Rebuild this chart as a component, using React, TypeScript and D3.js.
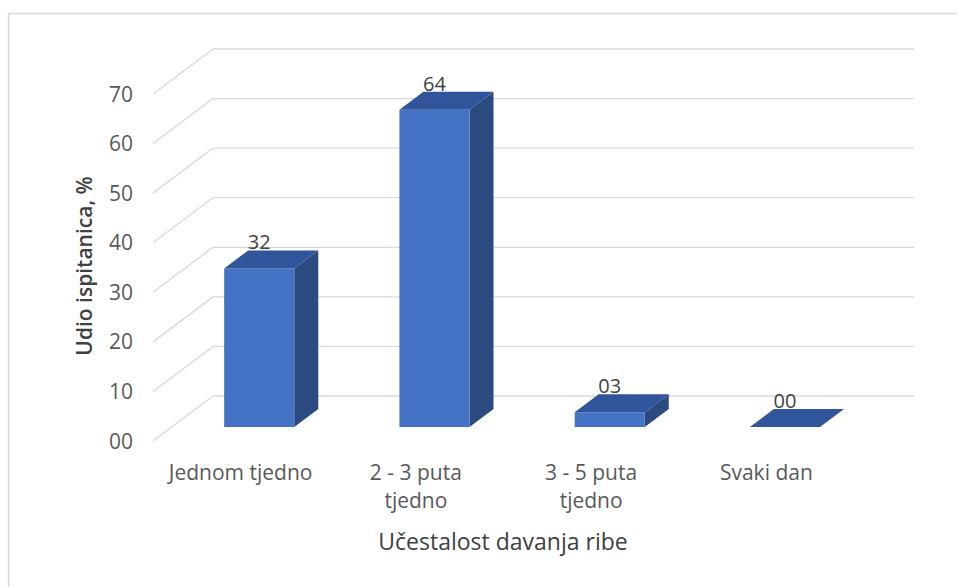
import React from "react";
import * as d3 from "d3";

const categories: string[][] = [["Jednom tjedno"], ["2 - 3 puta", "tjedno"], ["3 - 5 puta", "tjedno"], ["Svaki dan"]];
const values: number[] = [32, 64, 3, 0];
const valueLabels: string[] = ["32", "64", "03", "00"];
const ticks: number[] = [0, 10, 20, 30, 40, 50, 60, 70];
const tickLabels: string[] = ["00", "10", "20", "30", "40", "50", "60", "70"];
const yTitle = "Udio ispitanica, %";
const xTitle = "Učestalost davanja ribe";

const W = 957, H = 587;
const DX = 60, DY = -45; // depth offset front -> back
const T_FRONT = 0.31, T_BACK = 0.71;
const FONT = "'Open Sans', 'Segoe UI', sans-serif";

export default function App() {
  const x = d3.scaleBand<number>().domain(d3.range(categories.length)).range([153, 854]).padding(0);
  const y = d3.scaleLinear().domain([0, 70]).range([441, 94]);
  const bw = x.bandwidth();
  const barW = bw * 0.4;

  const P = (px: number, py: number, t: number) => [px + DX * t, py + DY * t];
  const pts = (arr: number[][]) => arr.map((p) => p.join(",")).join(" ");

  return (
    <svg width={W} height={H} style={{ position: "absolute", left: 0, top: 0, background: "#fff" }}>
      <rect x={8.5} y={13.5} width={W + 20} height={H + 20} fill="#fff" stroke="#D9D9D9" strokeWidth={1.5} />
      {/* gridlines */}
      {ticks.map((v) => {
        const fy = y(v);
        const fx = 153;
        const [bx, by] = P(fx, fy, 1);
        const [ex] = P(854, fy, 1);
        return (
          <g key={v}>
            <line x1={fx} y1={fy} x2={bx} y2={by} stroke="#D9D9D9" strokeWidth={1.3} />
            <line x1={bx} y1={by} x2={ex} y2={by} stroke="#D9D9D9" strokeWidth={1.3} />
          </g>
        );
      })}
      {/* tick labels */}
      {ticks.map((v, i) => (
        <text key={v} x={133} y={y(v)} dy="0.36em" textAnchor="end" fontFamily={FONT} fontSize={21} fill="#595959">
          {tickLabels[i]}
        </text>
      ))}
      {/* bars */}
      {values.map((v, i) => {
        const cx = (x(i) as number) + bw / 2;
        const x0 = cx - barW / 2, x1 = cx + barW / 2;
        const yb = y(0), yt = y(v);
        const f00 = P(x0, yb, T_FRONT), f10 = P(x1, yb, T_FRONT), f11 = P(x1, yt, T_FRONT), f01 = P(x0, yt, T_FRONT);
        const b10 = P(x1, yb, T_BACK), b11 = P(x1, yt, T_BACK), b01 = P(x0, yt, T_BACK);
        return (
          <g key={i}>
            {v > 0 && <polygon points={pts([f10, b10, b11, f11])} fill="#2B4A80" />}
            {v > 0 && <polygon points={pts([f00, f10, f11, f01])} fill="#4472C4" />}
            <polygon points={pts([f01, f11, b11, b01])} fill="#30559A" />
          </g>
        );
      })}
      {/* value labels */}
      {values.map((v, i) => {
        const cx = (x(i) as number) + bw / 2 + DX * T_FRONT;
        const by = y(v) + DY * T_BACK;
        return (
          <text key={i} x={cx} y={by - 1} textAnchor="middle" fontFamily={FONT} fontSize={20} fill="#404040">
            {valueLabels[i]}
          </text>
        );
      })}
      {/* category labels */}
      {categories.map((lines, i) => (
        <text key={i} textAnchor="middle" fontFamily={FONT} fontSize={21} fill="#595959">
          {lines.map((l, j) => (
            <tspan key={j} x={(x(i) as number) + bw / 2} y={480 + j * 28}>
              {l}
            </tspan>
          ))}
        </text>
      ))}
      <text x={503} y={550} textAnchor="middle" fontFamily={FONT} fontSize={23} fill="#404040">
        {xTitle}
      </text>
      <text transform={`translate(92,266) rotate(-90)`} textAnchor="middle" fontFamily={FONT} fontSize={21} fontWeight={600} fill="#404040">
        {yTitle}
      </text>
    </svg>
  );
}
